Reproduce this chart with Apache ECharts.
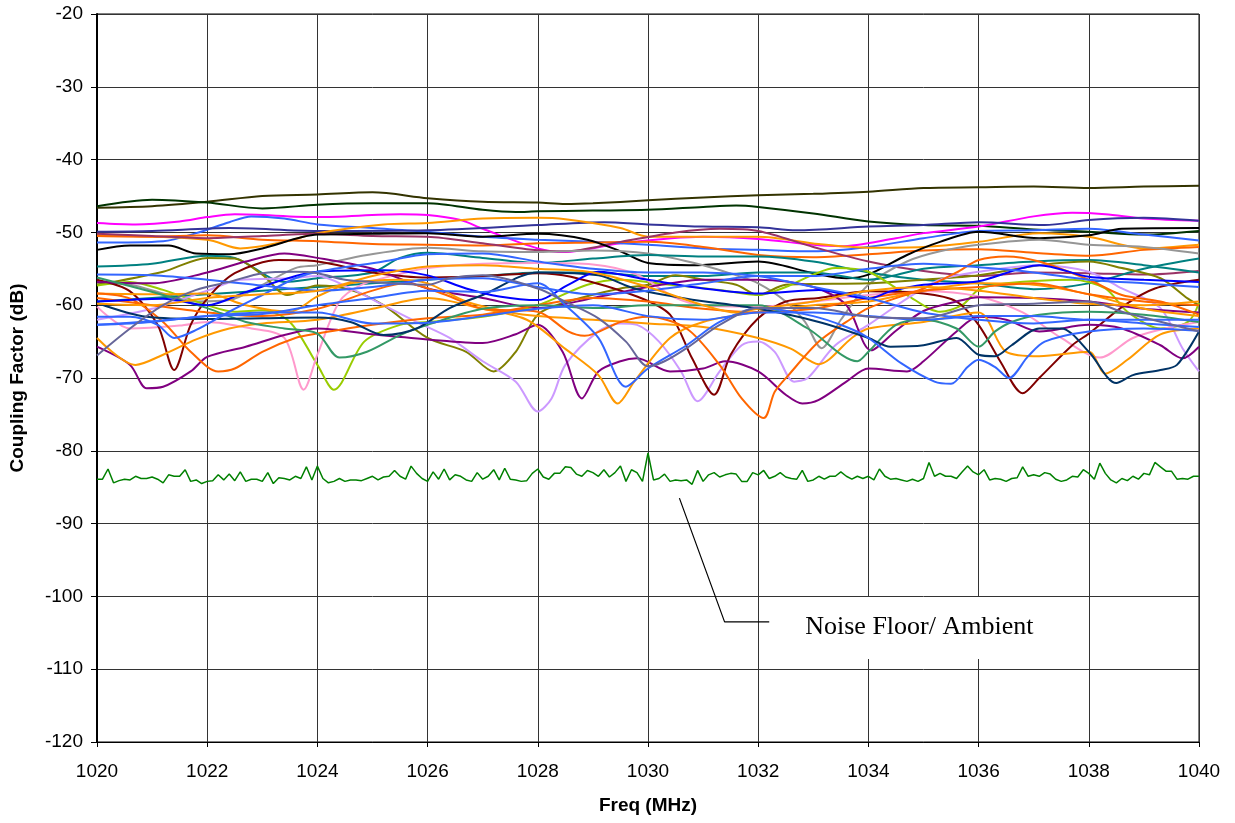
<!DOCTYPE html>
<html><head><meta charset="utf-8">
<script src="https://cdn.jsdelivr.net/npm/echarts/dist/echarts.min.js"></script>
<style>html,body{margin:0;padding:0;background:#fff}#c{width:1235px;height:823px}</style>
</head><body><div id="c"></div>
<script>
// ---- axis ticks ----
const xTicks = [1020,1022,1024,1026,1028,1030,1032,1034,1036,1038,1040];
const yTicks = [-120,-110,-100,-90,-80,-70,-60,-50,-40,-30,-20];

// ---- measured series: [MHz, dB] ----
const darkOlive = [[1020,-46.6],[1021,-46.4],[1022,-45.8],[1023,-45.0],[1024,-44.8],[1025,-44.5],[1026,-45.3],[1027,-45.8],[1028,-45.9],[1028.5,-46.1],[1029,-46.0],[1030,-45.6],[1031,-45.2],[1032,-44.9],[1033,-44.7],[1034,-44.4],[1035,-43.9],[1036,-43.8],[1037,-43.7],[1038,-43.9],[1039,-43.7],[1040,-43.6]];
const darkGreen = [[1020,-46.4],[1021,-45.5],[1022,-45.9],[1023,-46.7],[1024,-46.2],[1025,-46.0],[1026,-46.0],[1027,-46.9],[1027.6,-47.2],[1028,-47.1],[1029,-47.0],[1030,-46.9],[1031,-46.5],[1031.6,-46.3],[1032,-46.5],[1033,-47.4],[1034,-48.5],[1035,-49.0],[1036,-49.1],[1037,-49.6],[1038,-49.9],[1039,-50.3],[1040,-49.8]];
const magenta = [[1020,-48.7],[1020.7,-48.9],[1021.5,-48.5],[1022,-47.9],[1022.5,-47.5],[1024,-47.9],[1025.5,-47.5],[1026,-47.6],[1026.6,-48.3],[1027,-49.5],[1028,-52.2],[1028.5,-52.7],[1029.5,-51.5],[1031,-50.6],[1032,-50.9],[1033,-51.7],[1033.5,-51.9],[1034.5,-50.8],[1035,-50.1],[1036,-49.2],[1037,-47.8],[1037.7,-47.3],[1038.3,-47.5],[1039,-48.1],[1040,-48.4]];
const blueTop = [[1020,-51.4],[1021.2,-51.2],[1021.8,-50.1],[1022.4,-48.6],[1022.8,-47.8],[1023.4,-48.1],[1024,-48.9],[1025,-49.4],[1026,-49.9],[1027,-50.6],[1028,-51.0],[1029,-51.3],[1030,-51.7],[1031,-52.2],[1032,-52.4],[1033,-52.6],[1034,-52.0],[1035,-50.8],[1036,-49.8],[1037,-49.7],[1038,-49.5],[1039,-50.3],[1040,-51.1]];
const indigo = [[1020,-49.9],[1021,-49.8],[1022.4,-49.4],[1024,-49.8],[1026,-49.7],[1028,-49.0],[1029.2,-48.6],[1030,-48.9],[1031,-49.2],[1032,-49.3],[1032.7,-49.7],[1034,-49.2],[1035,-49.0],[1036,-48.6],[1037.2,-49.0],[1038,-48.3],[1039,-48.0],[1040,-48.4]];
const orangeTop = [[1020,-50.4],[1022,-51.0],[1022.6,-52.2],[1023.4,-51.3],[1024,-50.1],[1025.2,-48.9],[1026,-48.7],[1027,-48.1],[1028,-48.0],[1028.5,-48.2],[1029.5,-49.4],[1030,-50.6],[1031,-50.6],[1032,-50.6],[1033.1,-51.6],[1034,-52.1],[1035,-52.0],[1036,-51.3],[1037.1,-50.1],[1038,-50.6],[1039,-52.2],[1040,-51.7]];
const orangeRedTop = [[1020,-50.5],[1021,-50.6],[1022,-50.4],[1023,-51.0],[1024,-51.2],[1025,-51.6],[1026,-51.7],[1027,-51.8],[1028,-51.5],[1029,-51.4],[1030,-51.3],[1031,-52.0],[1032,-53.1],[1033,-53.4],[1034,-53.0],[1035,-52.5],[1036,-52.3],[1037,-52.8],[1038,-53.2],[1039,-52.4],[1040,-52.0]];
const plum = [[1020,-50.2],[1021,-50.5],[1022,-50.8],[1023,-50.5],[1024,-50.2],[1025,-50.5],[1026,-50.6],[1027,-51.5],[1027.8,-52.3],[1028.5,-52.6],[1029.5,-51.3],[1030.5,-50.0],[1031.3,-49.5],[1032,-49.8],[1033,-52.0],[1034,-54.0],[1035,-55.3],[1036,-56.0],[1037,-55.5],[1038,-55.6],[1039,-55.8],[1040,-55.3]];
const black = [[1020,-52.4],[1020.6,-51.8],[1021.3,-51.8],[1021.8,-52.9],[1022.4,-53.0],[1023,-52.2],[1024,-50.3],[1025,-50.2],[1026,-50.1],[1027,-50.6],[1028,-50.2],[1028.9,-51.0],[1029.5,-52.6],[1030,-54.2],[1030.9,-54.5],[1032,-54.0],[1033,-55.6],[1033.6,-56.3],[1034,-55.8],[1034.7,-53.1],[1035.3,-51.3],[1036,-49.9],[1037.1,-50.8],[1038,-50.4],[1038.6,-49.5],[1040,-49.4]];
const gray = [[1020,-57.0],[1020.6,-57.2],[1021.2,-58.4],[1021.8,-59.5],[1022.4,-59.3],[1023,-57.2],[1023.6,-54.9],[1024,-54.5],[1024.9,-53.1],[1026,-52.1],[1027,-52.6],[1028,-52.7],[1029,-52.5],[1030,-52.9],[1031,-54.5],[1031.6,-55.9],[1032,-57.0],[1032.5,-59.5],[1032.85,-62.3],[1033.15,-65.9],[1033.5,-62.0],[1034,-57.2],[1034.7,-54.0],[1035.3,-52.6],[1036,-51.7],[1037.1,-51.0],[1038,-51.7],[1039,-52.0],[1040,-52.9]];
const teal = [[1020,-54.7],[1021,-54.3],[1022,-53.2],[1022.5,-53.5],[1023.4,-56.8],[1024,-56.3],[1025,-55.5],[1025.5,-53.5],[1026,-52.8],[1027,-53.5],[1028,-54.2],[1029,-53.6],[1030,-53.1],[1031,-53.3],[1032,-53.3],[1033,-54.0],[1034,-55.5],[1035,-56.5],[1036,-57.0],[1037,-57.8],[1038,-57.0],[1039,-55.0],[1040,-53.6]];
const teal2 = [[1020,-59.5],[1021,-59.0],[1022,-58.5],[1023,-58.0],[1024,-57.5],[1025,-57.0],[1026,-56.5],[1027,-56.0],[1028,-55.5],[1029,-55.5],[1030,-56.0],[1031,-56.0],[1032,-55.5],[1033,-55.5],[1034,-56.5],[1035,-55.0],[1036,-54.5],[1037,-54.0],[1038,-53.8],[1039,-54.5],[1040,-55.5]];
const olive = [[1020,-57.2],[1021.2,-55.4],[1022,-53.5],[1022.5,-53.6],[1023,-55.8],[1023.45,-58.6],[1024,-57.3],[1024.6,-57.9],[1025.2,-60.0],[1026,-64.5],[1026.7,-66.4],[1027.2,-69.1],[1027.6,-66.4],[1028,-61.3],[1028.55,-59.5],[1029.5,-57.7],[1030,-57.2],[1030.5,-55.9],[1031,-56.5],[1031.6,-57.2],[1032,-58.6],[1032.5,-57.2],[1034,-57.0],[1035,-56.5],[1036,-55.9],[1037.1,-54.5],[1038,-54.0],[1038.6,-54.9],[1039.3,-56.3],[1039.8,-59.1],[1040,-60.0]];
const yellowGreen = [[1020,-57.3],[1020.6,-56.8],[1021.2,-57.9],[1022,-60.0],[1022.5,-60.9],[1023,-60.7],[1023.5,-62.3],[1024,-68.2],[1024.3,-71.6],[1024.85,-65.0],[1025.5,-62.7],[1026,-62.3],[1027,-61.6],[1028,-60.0],[1028.9,-57.2],[1029.5,-56.5],[1030.4,-57.2],[1031.3,-57.9],[1032,-58.6],[1032.5,-57.5],[1033,-55.8],[1033.4,-54.9],[1034,-55.4],[1034.7,-58.6],[1035.3,-60.9],[1035.7,-60.0],[1036,-57.9],[1036.5,-57.0],[1037.7,-56.5],[1038.3,-57.7],[1038.7,-60.9],[1039.3,-63.2],[1039.8,-62.3],[1040,-59.7]];
const pink = [[1020,-60.2],[1020.6,-63.2],[1021.5,-62.8],[1022,-62.3],[1022.8,-63.2],[1023.4,-64.5],[1023.75,-71.6],[1024,-66.8],[1024.4,-59.5],[1024.8,-57.2],[1025.4,-55.9],[1026,-54.9],[1027,-54.3],[1028,-54.2],[1029,-54.4],[1029.8,-55.8],[1030.5,-59.0],[1031,-60.0],[1032,-60.2],[1033,-59.5],[1034,-58.6],[1035,-58.1],[1036,-58.8],[1036.8,-61.0],[1037.5,-64.5],[1038.2,-67.2],[1038.8,-64.5],[1039.5,-63.0],[1040,-62.3]];
const lavender = [[1020,-62.0],[1021,-60.5],[1022,-58.0],[1022.6,-56.5],[1023.5,-56.3],[1024,-56.0],[1024.6,-57.7],[1025.2,-60.0],[1025.8,-62.3],[1026.4,-64.5],[1027,-67.7],[1027.6,-70.5],[1028,-74.6],[1028.25,-72.8],[1028.5,-68.2],[1029.1,-63.6],[1029.5,-62.5],[1029.8,-62.7],[1030.2,-65.0],[1030.6,-69.1],[1030.9,-73.2],[1031.3,-69.1],[1031.7,-65.5],[1032,-65.0],[1032.3,-66.4],[1032.65,-70.5],[1032.9,-70.0],[1033.4,-65.5],[1034,-62.7],[1034.7,-59.1],[1035.3,-56.5],[1036,-55.4],[1037.1,-54.5],[1038,-55.4],[1038.6,-57.7],[1039.3,-60.4],[1039.7,-65.9],[1040,-69.1]];
const maroon = [[1020,-56.5],[1020.6,-58.1],[1021.1,-62.7],[1021.4,-68.9],[1021.7,-62.7],[1022,-59.1],[1022.5,-55.6],[1023.3,-53.8],[1024,-54.0],[1025,-55.5],[1026,-56.2],[1027,-56.0],[1028,-55.6],[1028.6,-56.1],[1029.8,-58.8],[1030.4,-61.3],[1030.8,-67.3],[1031.2,-72.3],[1031.5,-66.8],[1032,-61.8],[1032.5,-59.5],[1033.1,-59.0],[1034,-58.1],[1035,-58.4],[1035.6,-59.5],[1036,-62.7],[1036.4,-67.8],[1036.8,-72.1],[1037.1,-70.0],[1037.7,-65.5],[1038,-63.9],[1038.65,-60.0],[1039.2,-57.7],[1040,-56.5]];
const purple1 = [[1020,-65.7],[1020.6,-68.2],[1020.9,-71.4],[1021.2,-71.2],[1021.7,-69.1],[1022,-67.1],[1022.7,-65.7],[1023.4,-64.1],[1024,-63.2],[1025,-64.0],[1026,-64.7],[1027,-65.2],[1027.6,-64.0],[1028,-62.7],[1028.45,-66.4],[1028.8,-72.8],[1029.1,-69.1],[1029.5,-67.7],[1029.8,-67.3],[1030.4,-69.1],[1031,-68.7],[1031.4,-67.7],[1032,-69.1],[1032.5,-72.3],[1032.8,-73.5],[1033.1,-73.0],[1033.6,-70.5],[1034,-68.7],[1034.7,-69.1],[1035,-67.7],[1035.6,-63.6],[1036,-61.6],[1036.5,-62.0],[1037.1,-63.6],[1038,-62.7],[1038.6,-63.2],[1039.3,-65.5],[1039.7,-67.3],[1040,-65.7]];
const purple2 = [[1020,-56.8],[1021,-57.0],[1022,-55.5],[1022.7,-54.0],[1023.4,-52.9],[1024,-53.5],[1025,-55.0],[1026,-57.7],[1027,-59.0],[1028,-60.4],[1029,-59.0],[1030,-57.5],[1031,-56.5],[1032,-56.5],[1033,-57.5],[1033.6,-60.0],[1034.05,-66.2],[1034.5,-63.5],[1035,-60.8],[1035.6,-59.5],[1036,-58.9],[1037,-59.0],[1038,-59.5],[1039,-60.5],[1040,-61.0]];
const orangeDip1 = [[1020,-64.5],[1020.7,-68.2],[1021.2,-66.8],[1021.8,-64.7],[1022.4,-63.2],[1023,-62.5],[1024,-62.0],[1025,-60.5],[1026,-59.0],[1027,-60.5],[1027.8,-62.0],[1028.5,-66.0],[1029.1,-69.6],[1029.45,-73.5],[1029.75,-70.5],[1030.4,-64.5],[1031,-62.3],[1032,-60.9],[1033,-60.0],[1034,-59.5],[1035,-58.0],[1036,-57.0],[1037,-57.2],[1038,-58.5],[1039,-60.5],[1040,-61.5]];
const orangeDip2 = [[1020,-58.4],[1021,-58.5],[1022,-58.4],[1022.7,-60.0],[1023.5,-60.9],[1024,-58.8],[1024.6,-57.0],[1025.5,-56.5],[1026,-57.0],[1026.7,-59.5],[1027.5,-61.0],[1028,-61.5],[1029,-62.0],[1030,-62.5],[1031,-63.0],[1032,-64.5],[1032.6,-66.0],[1033.1,-68.1],[1033.7,-64.5],[1034,-63.2],[1035,-62.3],[1036,-61.0],[1036.5,-66.4],[1037.1,-67.0],[1038,-66.4],[1038.3,-69.4],[1038.7,-67.5],[1039.3,-64.0],[1040,-63.2]];
const orangeRedDip1 = [[1020,-58.4],[1020.6,-59.1],[1021.2,-62.3],[1021.7,-66.4],[1022.2,-69.1],[1022.5,-68.7],[1023,-66.4],[1023.6,-64.5],[1024,-63.9],[1025,-62.7],[1026,-61.8],[1027,-61.3],[1028,-60.0],[1029,-59.0],[1030,-59.5],[1031,-60.5],[1032,-61.0],[1033,-60.5],[1034,-59.0],[1035,-58.0],[1036,-57.5],[1037,-57.0],[1038,-58.5],[1039,-59.5],[1040,-60.0]];
const orangeRedDip2 = [[1020,-59.0],[1021,-60.0],[1022,-61.0],[1023,-61.5],[1024,-60.5],[1025,-58.0],[1025.6,-57.0],[1026.3,-58.5],[1027,-60.5],[1028,-60.9],[1028.55,-63.6],[1028.85,-64.2],[1029.5,-62.3],[1030,-61.6],[1030.7,-63.2],[1031.3,-68.2],[1031.7,-72.8],[1032.1,-75.5],[1032.3,-71.9],[1032.55,-69.6],[1033.1,-65.0],[1033.6,-62.3],[1034,-60.4],[1035,-57.7],[1035.6,-55.5],[1036,-53.8],[1036.5,-53.3],[1037.1,-54.0],[1038,-56.5],[1038.6,-58.6],[1039.3,-59.5],[1040,-61.3]];
const seaGreen = [[1020,-56.2],[1021.2,-58.6],[1022,-60.4],[1022.7,-62.3],[1023.4,-63.2],[1024,-63.9],[1024.4,-67.2],[1024.9,-66.4],[1025.5,-64.1],[1026,-62.7],[1027,-60.5],[1028,-60.0],[1029.1,-60.4],[1030,-60.0],[1031,-60.0],[1032,-60.0],[1032.9,-63.2],[1033.8,-67.7],[1034,-66.4],[1034.5,-62.7],[1035,-62.0],[1035.6,-63.2],[1036,-65.7],[1036.3,-63.6],[1036.6,-62.3],[1037.1,-61.3],[1038,-60.9],[1039,-61.3],[1040,-62.3]];
const darkSlate = [[1020,-59.7],[1020.9,-61.6],[1022,-61.9],[1023,-61.8],[1024,-61.7],[1024.6,-62.3],[1025.2,-64.1],[1025.8,-63.2],[1026.4,-60.4],[1027,-58.6],[1028,-55.5],[1029.1,-55.9],[1029.75,-57.7],[1030.7,-59.1],[1032,-60.5],[1033.1,-62.3],[1034,-64.5],[1034.4,-65.7],[1035,-65.5],[1035.6,-64.5],[1036,-66.8],[1036.3,-67.0],[1036.6,-65.5],[1037.1,-63.2],[1037.5,-63.2],[1038,-66.4],[1038.5,-70.7],[1038.8,-69.6],[1039.3,-68.9],[1039.6,-68.2],[1040,-63.6]];
const blueMid = [[1020,-59.5],[1021.2,-59.1],[1022,-60.0],[1022.7,-58.2],[1024,-55.4],[1025.2,-55.2],[1026,-55.9],[1026.7,-57.7],[1027.3,-58.8],[1028,-59.3],[1028.55,-57.2],[1029.1,-55.4],[1030,-56.5],[1031,-57.7],[1032,-58.4],[1033.1,-57.9],[1034,-59.1],[1034.4,-58.1],[1035,-57.2],[1036,-56.7],[1037.1,-54.5],[1038,-56.1],[1039,-56.5],[1040,-56.8]];
const blueLow1 = [[1020,-61.6],[1020.6,-61.6],[1021.1,-62.7],[1021.4,-64.5],[1021.8,-63.4],[1022.4,-60.9],[1023,-58.6],[1023.6,-56.3],[1024,-55.4],[1025.2,-54.0],[1026,-53.0],[1027,-52.9],[1028,-54.0],[1029,-55.0],[1030,-55.5],[1031,-55.5],[1032,-56.0],[1033,-57.5],[1034,-59.0],[1035,-61.0],[1036,-62.0],[1037,-62.5],[1038,-62.0],[1039,-62.5],[1040,-63.0]];
const blueLow2 = [[1020,-62.7],[1021,-62.3],[1022,-61.5],[1023,-61.2],[1024,-60.0],[1025,-59.0],[1026,-58.0],[1027,-58.2],[1028,-57.0],[1028.5,-60.0],[1029.1,-64.5],[1029.6,-71.2],[1030,-68.7],[1030.7,-65.5],[1031.3,-62.3],[1032,-60.4],[1033,-61.5],[1033.6,-63.0],[1034,-64.5],[1034.6,-68.0],[1035.2,-70.5],[1035.5,-70.8],[1035.8,-68.5],[1036,-67.5],[1036.3,-68.5],[1036.55,-70.0],[1036.9,-67.0],[1037.2,-65.0],[1038,-63.6],[1039,-63.2],[1040,-63.5]];
const blueLow3 = [[1020,-55.8],[1021,-55.9],[1022,-56.5],[1023,-57.3],[1024,-58.0],[1025,-57.5],[1026,-56.5],[1027,-56.3],[1028,-57.5],[1029,-58.5],[1030,-58.0],[1031,-57.0],[1032,-56.0],[1033,-56.0],[1034,-55.0],[1035,-54.3],[1036,-54.8],[1037,-55.5],[1038,-56.5],[1039,-57.0],[1040,-57.5]];
const blueLow4 = [[1020,-62.7],[1021,-62.2],[1022,-61.5],[1023,-61.0],[1024,-61.0],[1025,-62.5],[1026,-62.4],[1027,-61.5],[1028,-60.5],[1029,-60.0],[1030,-61.5],[1031,-62.0],[1032,-61.0],[1033,-61.0],[1034,-61.5],[1035,-62.0],[1036,-61.5],[1037,-61.5],[1038,-62.0],[1039,-62.0],[1040,-62.0]];
const orangeMid = [[1020,-59.8],[1021,-60.0],[1022,-59.0],[1023,-58.5],[1024,-58.0],[1025,-56.0],[1026,-54.7],[1027,-54.5],[1028,-55.0],[1029,-55.5],[1030,-57.5],[1031,-60.0],[1031.6,-61.0],[1032,-60.5],[1033,-59.5],[1034,-58.0],[1035,-57.5],[1036,-58.0],[1037,-59.0],[1038,-59.8],[1039,-60.0],[1040,-59.5]];
const blueGray = [[1020,-66.9],[1020.6,-63.2],[1021.2,-60.0],[1021.8,-57.9],[1022.4,-56.8],[1023,-55.6],[1023.6,-55.4],[1024,-55.6],[1024.5,-56.5],[1025,-56.8],[1026,-57.2],[1026.4,-56.3],[1027,-55.9],[1028,-57.7],[1028.5,-59.5],[1029.1,-61.8],[1029.6,-65.0],[1030,-68.4],[1030.3,-67.7],[1030.7,-65.9],[1031.3,-62.7],[1032,-60.4],[1033,-60.4],[1034,-61.6],[1035,-61.8],[1036,-60.0],[1037,-59.8],[1038,-59.5],[1038.6,-60.9],[1040,-63.6]];

// noise floor, one reading every 0.1 MHz from 1020 to 1040
const noiseStartMHz = 1020;
const noiseStepMHz = 0.1;
const noiseDb = [
-83.9,-83.9,-82.5,-84.4,-84.1,-83.9,-84.0,-83.5,-83.8,-83.8,
-83.6,-83.9,-84.4,-83.3,-83.5,-83.5,-82.6,-84.2,-84.0,-84.5,
-84.2,-84.1,-83.3,-84.0,-83.2,-84.1,-82.9,-84.2,-83.9,-83.9,
-84.2,-83.0,-84.5,-83.7,-83.8,-84.0,-83.5,-83.8,-82.2,-84.0,
-82.1,-83.8,-84.4,-84.2,-83.8,-84.2,-84.0,-84.0,-84.1,-83.8,
-83.5,-84.0,-83.6,-83.5,-82.7,-83.5,-83.9,-82.1,-83.1,-83.8,
-84.2,-82.9,-83.9,-82.5,-84.0,-83.3,-83.5,-84.0,-84.2,-83.0,
-83.9,-83.5,-82.6,-84.0,-82.4,-83.9,-84.0,-84.2,-84.1,-83.1,
-82.5,-83.6,-83.9,-83.1,-83.1,-82.2,-82.3,-83.2,-83.5,-82.7,
-83.0,-83.5,-82.6,-83.6,-83.0,-82.1,-84.2,-82.6,-83.0,-84.2,
-80.3,-84.0,-83.8,-83.2,-84.2,-84.0,-84.1,-84.0,-84.6,-82.7,
-84.2,-83.3,-83.0,-83.6,-83.3,-83.1,-83.2,-84.2,-84.2,-83.0,
-83.3,-82.7,-83.8,-83.5,-83.0,-83.6,-83.8,-83.9,-82.7,-84.2,
-84.0,-83.5,-83.9,-83.5,-83.5,-82.9,-83.5,-83.9,-83.5,-83.8,
-83.5,-84.0,-82.5,-83.5,-83.9,-83.8,-84.0,-84.2,-83.9,-84.2,
-83.8,-81.6,-83.5,-83.1,-83.5,-83.5,-83.8,-82.9,-82.1,-82.9,
-83.3,-82.6,-84.0,-83.8,-83.9,-84.2,-83.8,-83.7,-82.2,-83.5,
-83.3,-83.5,-83.0,-83.2,-83.9,-84.2,-84.0,-83.5,-83.6,-82.6,
-83.1,-83.9,-81.7,-83.1,-84.0,-84.4,-83.8,-84.1,-83.5,-83.9,
-83.1,-83.3,-81.6,-82.2,-82.8,-82.8,-83.9,-83.8,-83.9,-83.5,
-83.5];

// callout (data coordinates) and its text
const calloutPts = [[1030.57,-86.5],[1031.39,-103.5],[1032.2,-103.5]];
const calloutText = 'Noise Floor/ Ambient';

// ---- styling (separate from data) ----
const seriesDefs = [
  ['darkOlive', darkOlive, '#333300'],
  ['darkGreen', darkGreen, '#003300'],
  ['magenta', magenta, '#FF00FF'],
  ['blueTop', blueTop, '#3366FF'],
  ['indigo', indigo, '#333399'],
  ['orangeTop', orangeTop, '#FF9900'],
  ['orangeRedTop', orangeRedTop, '#FF6600'],
  ['plum', plum, '#993366'],
  ['black', black, '#000000'],
  ['gray', gray, '#969696'],
  ['teal', teal, '#008080'],
  ['teal2', teal2, '#008080'],
  ['olive', olive, '#808000'],
  ['yellowGreen', yellowGreen, '#99CC00'],
  ['pink', pink, '#FF99CC'],
  ['lavender', lavender, '#CC99FF'],
  ['maroon', maroon, '#800000'],
  ['purple1', purple1, '#800080'],
  ['purple2', purple2, '#800080'],
  ['orangeDip1', orangeDip1, '#FF9900'],
  ['orangeDip2', orangeDip2, '#FF9900'],
  ['orangeRedDip1', orangeRedDip1, '#FF6600'],
  ['orangeRedDip2', orangeRedDip2, '#FF6600'],
  ['seaGreen', seaGreen, '#339966'],
  ['darkSlate', darkSlate, '#003366'],
  ['blueMid', blueMid, '#0000FF'],
  ['blueLow1', blueLow1, '#3366FF'],
  ['blueLow2', blueLow2, '#3366FF'],
  ['blueLow3', blueLow3, '#3366FF'],
  ['blueLow4', blueLow4, '#3366FF'],
  ['orangeMid', orangeMid, '#FF9900'],
  ['blueGray', blueGray, '#666699']
];

const SANS = '"Liberation Sans", Arial, sans-serif';
const series = seriesDefs.map(([name, data, color]) => ({
  name, type: 'line', data, smooth: 0.3, showSymbol: false, symbol: 'none',
  lineStyle: { color, width: 2 }, itemStyle: { color }, silent: true, animation: false
}));
series.push({
  name: 'Noise Floor', type: 'line', showSymbol: false, symbol: 'none', silent: true, animation: false,
  data: noiseDb.map((v, i) => [+(noiseStartMHz + i * noiseStepMHz).toFixed(2), v]),
  lineStyle: { color: '#008000', width: 1.5 }
});
series.push({
  name: 'callout', type: 'line', showSymbol: false, symbol: 'none', silent: true, animation: false,
  data: calloutPts, lineStyle: { color: '#000', width: 1.2 }
});

const chart = echarts.init(document.getElementById('c'));
chart.setOption({
  animation: false,
  backgroundColor: '#fff',
  grid: { left: 96, right: 36, top: 14, bottom: 81, show: true, borderColor: '#000', borderWidth: 1 },
  xAxis: {
    type: 'value', min: xTicks[0], max: xTicks[xTicks.length - 1], interval: 2,
    axisLine: { show: true, onZero: false, lineStyle: { color: '#000', width: 1 } },
    axisTick: { show: true, length: 5, lineStyle: { color: '#000' } },
    axisLabel: { fontFamily: SANS, fontSize: 19, color: '#000', margin: 20, formatter: v => String(v) },
    splitLine: { show: true, lineStyle: { color: '#333', width: 1 } },
    name: 'Freq (MHz)', nameLocation: 'middle', nameGap: 54,
    nameTextStyle: { fontFamily: SANS, fontSize: 19, fontWeight: 'bold', color: '#000' }
  },
  yAxis: {
    type: 'value', min: yTicks[0], max: yTicks[yTicks.length - 1], interval: 10,
    axisLine: { show: true, onZero: false, lineStyle: { color: '#000', width: 2 } },
    axisTick: { show: true, length: 6, lineStyle: { color: '#000' } },
    axisLabel: { fontFamily: SANS, fontSize: 19, color: '#000', margin: 14, formatter: v => String(v) },
    splitLine: { show: true, lineStyle: { color: '#333', width: 1 } },
    name: 'Coupling Factor (dB)', nameLocation: 'middle', nameGap: 70, nameRotate: 90,
    nameTextStyle: { fontFamily: SANS, fontSize: 19, fontWeight: 'bold', color: '#000' }
  },
  series
});

const anchor = chart.convertToPixel({ xAxisIndex: 0, yAxisIndex: 0 }, calloutPts[calloutPts.length - 1]);
chart.setOption({
  graphic: [
    { type: 'rect', z: 50, shape: { x: anchor[0] + 6, y: anchor[1] - 25, width: 292, height: 62 }, style: { fill: '#fff' }, silent: true },
    { type: 'text', z: 51, x: anchor[0] + 36, y: anchor[1] + 5, silent: true,
      style: { text: calloutText, fill: '#000', font: '26px "Liberation Serif", "Times New Roman", serif', verticalAlign: 'middle', align: 'left' } }
  ]
});
</script></body></html>
